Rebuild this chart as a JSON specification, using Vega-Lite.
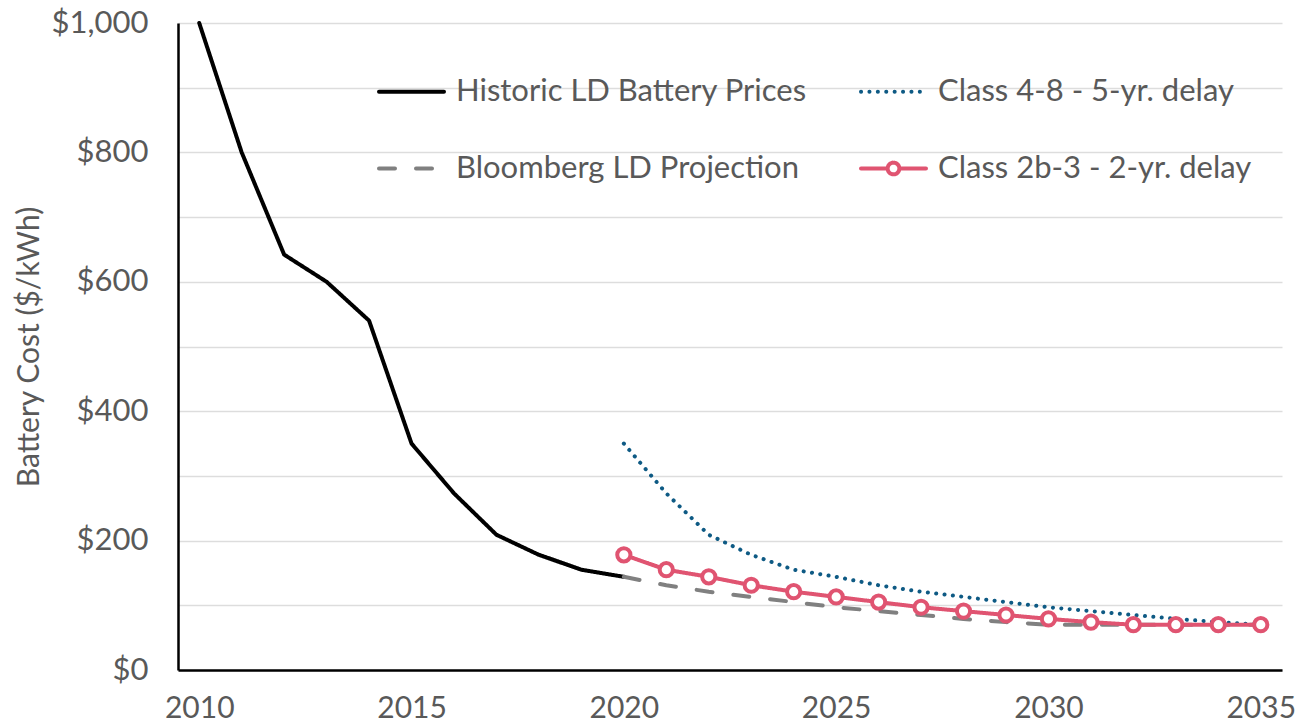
{
  "$schema": "https://vega.github.io/schema/vega-lite/v6.json",
  "width": 1104,
  "height": 647,
  "autosize": {"type": "none"},
  "padding": {"left": 178, "top": 23, "right": 32, "bottom": 56},
  "background": "white",
  "config": {
    "font": "Lato",
    "view": {"stroke": null},
    "axis": {"labelColor": "#595959", "titleColor": "#595959", "labelFont": "Lato", "titleFont": "Lato"}
  },
  "data": {
    "values": [
      {"series": "Historic LD Battery Prices", "year": 2010, "cost": 1000},
      {"series": "Historic LD Battery Prices", "year": 2011, "cost": 800},
      {"series": "Historic LD Battery Prices", "year": 2012, "cost": 642},
      {"series": "Historic LD Battery Prices", "year": 2013, "cost": 600},
      {"series": "Historic LD Battery Prices", "year": 2014, "cost": 540},
      {"series": "Historic LD Battery Prices", "year": 2015, "cost": 350},
      {"series": "Historic LD Battery Prices", "year": 2016, "cost": 273},
      {"series": "Historic LD Battery Prices", "year": 2017, "cost": 209},
      {"series": "Historic LD Battery Prices", "year": 2018, "cost": 178},
      {"series": "Historic LD Battery Prices", "year": 2019, "cost": 155},
      {"series": "Historic LD Battery Prices", "year": 2020, "cost": 144},
      {"series": "Bloomberg LD Projection", "year": 2020, "cost": 144},
      {"series": "Bloomberg LD Projection", "year": 2021, "cost": 131},
      {"series": "Bloomberg LD Projection", "year": 2022, "cost": 121},
      {"series": "Bloomberg LD Projection", "year": 2023, "cost": 113},
      {"series": "Bloomberg LD Projection", "year": 2024, "cost": 105},
      {"series": "Bloomberg LD Projection", "year": 2025, "cost": 97},
      {"series": "Bloomberg LD Projection", "year": 2026, "cost": 91},
      {"series": "Bloomberg LD Projection", "year": 2027, "cost": 85},
      {"series": "Bloomberg LD Projection", "year": 2028, "cost": 79},
      {"series": "Bloomberg LD Projection", "year": 2029, "cost": 74},
      {"series": "Bloomberg LD Projection", "year": 2030, "cost": 70},
      {"series": "Bloomberg LD Projection", "year": 2031, "cost": 70},
      {"series": "Bloomberg LD Projection", "year": 2032, "cost": 70},
      {"series": "Bloomberg LD Projection", "year": 2033, "cost": 70},
      {"series": "Bloomberg LD Projection", "year": 2034, "cost": 70},
      {"series": "Bloomberg LD Projection", "year": 2035, "cost": 70},
      {"series": "Class 4-8 - 5-yr. delay", "year": 2020, "cost": 350},
      {"series": "Class 4-8 - 5-yr. delay", "year": 2021, "cost": 273},
      {"series": "Class 4-8 - 5-yr. delay", "year": 2022, "cost": 209},
      {"series": "Class 4-8 - 5-yr. delay", "year": 2023, "cost": 178},
      {"series": "Class 4-8 - 5-yr. delay", "year": 2024, "cost": 155},
      {"series": "Class 4-8 - 5-yr. delay", "year": 2025, "cost": 144},
      {"series": "Class 4-8 - 5-yr. delay", "year": 2026, "cost": 131},
      {"series": "Class 4-8 - 5-yr. delay", "year": 2027, "cost": 121},
      {"series": "Class 4-8 - 5-yr. delay", "year": 2028, "cost": 113},
      {"series": "Class 4-8 - 5-yr. delay", "year": 2029, "cost": 105},
      {"series": "Class 4-8 - 5-yr. delay", "year": 2030, "cost": 97},
      {"series": "Class 4-8 - 5-yr. delay", "year": 2031, "cost": 91},
      {"series": "Class 4-8 - 5-yr. delay", "year": 2032, "cost": 85},
      {"series": "Class 4-8 - 5-yr. delay", "year": 2033, "cost": 79},
      {"series": "Class 4-8 - 5-yr. delay", "year": 2034, "cost": 74},
      {"series": "Class 4-8 - 5-yr. delay", "year": 2035, "cost": 70},
      {"series": "Class 2b-3 - 2-yr. delay", "year": 2020, "cost": 178},
      {"series": "Class 2b-3 - 2-yr. delay", "year": 2021, "cost": 155},
      {"series": "Class 2b-3 - 2-yr. delay", "year": 2022, "cost": 144},
      {"series": "Class 2b-3 - 2-yr. delay", "year": 2023, "cost": 131},
      {"series": "Class 2b-3 - 2-yr. delay", "year": 2024, "cost": 121},
      {"series": "Class 2b-3 - 2-yr. delay", "year": 2025, "cost": 113},
      {"series": "Class 2b-3 - 2-yr. delay", "year": 2026, "cost": 105},
      {"series": "Class 2b-3 - 2-yr. delay", "year": 2027, "cost": 97},
      {"series": "Class 2b-3 - 2-yr. delay", "year": 2028, "cost": 91},
      {"series": "Class 2b-3 - 2-yr. delay", "year": 2029, "cost": 85},
      {"series": "Class 2b-3 - 2-yr. delay", "year": 2030, "cost": 79},
      {"series": "Class 2b-3 - 2-yr. delay", "year": 2031, "cost": 74},
      {"series": "Class 2b-3 - 2-yr. delay", "year": 2032, "cost": 70},
      {"series": "Class 2b-3 - 2-yr. delay", "year": 2033, "cost": 70},
      {"series": "Class 2b-3 - 2-yr. delay", "year": 2034, "cost": 70},
      {"series": "Class 2b-3 - 2-yr. delay", "year": 2035, "cost": 70}
    ]
  },
  "encoding": {
    "x": {
      "field": "year", "type": "quantitative",
      "scale": {"domain": [2009.5, 2035.5], "nice": false, "zero": false},
      "axis": {
        "values": [2010, 2015, 2020, 2025, 2030, 2035], "format": "d",
        "title": null, "grid": false, "ticks": false,
        "domainColor": "#000000", "domainWidth": 2.5,
        "labelFontSize": 30, "labelPadding": 23, "labelFlush": false
      }
    },
    "y": {
      "field": "cost", "type": "quantitative",
      "scale": {"domain": [0, 1000], "nice": false},
      "axis": {
        "values": [0, 100, 200, 300, 400, 500, 600, 700, 800, 900, 1000],
        "labelExpr": "datum.value % 200 === 0 ? '$' + format(datum.value, ',') : ''",
        "title": "Battery Cost ($/kWh)", "titleFontSize": 30, "titleFontWeight": "normal", "titlePadding": 7,
        "grid": true, "gridColor": "#DDDDDD", "gridWidth": 1.5, "ticks": false,
        "domainColor": "#000000", "domainWidth": 2.5,
        "labelFontSize": 31, "labelPadding": 30
      }
    }
  },
  "layer": [
    {
      "mark": {"type": "line", "strokeCap": "round", "strokeJoin": "round"},
      "encoding": {
        "stroke": {
          "field": "series", "type": "nominal",
          "scale": {
            "domain": ["Historic LD Battery Prices", "Bloomberg LD Projection", "Class 4-8 - 5-yr. delay", "Class 2b-3 - 2-yr. delay"],
            "range": ["#000000", "#808080", "#0E5A84", "#E05471"]
          },
          "legend": {
            "orient": "none", "legendX": 199, "legendY": 34, "columns": 2, "title": null,
            "symbolType": "stroke", "symbolSize": 4225, "symbolStrokeWidth": 4,
            "labelFontSize": 31, "labelColor": "#595959", "labelFont": "Lato", "labelOffset": 10,
            "rowPadding": 27, "columnPadding": 46, "labelLimit": 500,
            "encode": {"symbols": {"update": {
              "strokeCap": {"value": "round"},
              "shape": {"signal": "datum.value === 'Class 2b-3 - 2-yr. delay' ? 'M-1,0H-0.18M0.18,0H1M-0.18,0A0.18,0.18,0,1,0,0.18,0A0.18,0.18,0,1,0,-0.18,0Z' : 'stroke'"},
              "fill": {"signal": "datum.value === 'Class 2b-3 - 2-yr. delay' ? '#ffffff' : 'transparent'"}
            }}}
          }
        },
        "strokeDash": {
          "field": "series", "type": "nominal",
          "scale": {
            "domain": ["Historic LD Battery Prices", "Bloomberg LD Projection", "Class 4-8 - 5-yr. delay", "Class 2b-3 - 2-yr. delay"],
            "range": [[1, 0], [16, 21], [0.1, 8.3], [1, 0]]
          }
        },
        "strokeWidth": {
          "field": "series", "type": "nominal", "legend": null,
          "scale": {
            "domain": ["Historic LD Battery Prices", "Bloomberg LD Projection", "Class 4-8 - 5-yr. delay", "Class 2b-3 - 2-yr. delay"],
            "range": [4, 4, 4.5, 4.5]
          }
        }
      }
    },
    {
      "transform": [{"filter": "datum.series === 'Class 2b-3 - 2-yr. delay'"}],
      "mark": {"type": "point", "shape": "circle", "filled": true, "fill": "white", "stroke": "#E05471", "strokeWidth": 4, "size": 175, "opacity": 1}
    }
  ]
}
